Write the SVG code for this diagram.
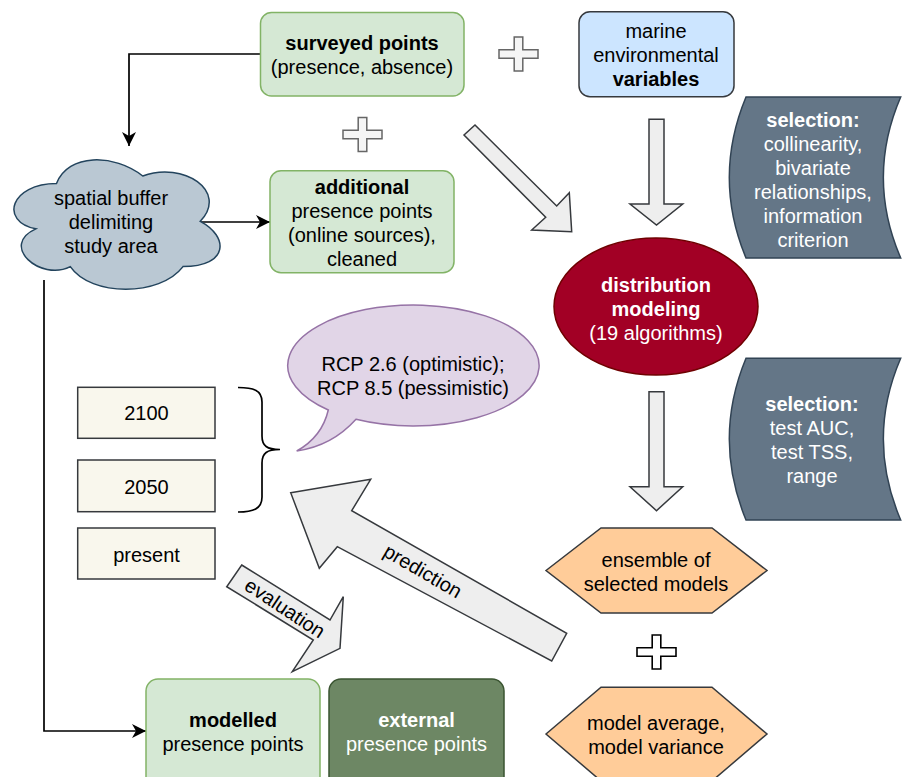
<svg xmlns="http://www.w3.org/2000/svg" width="904" height="777" viewBox="0 0 904 777">
  <defs>
    <style>
      .t { font-family: "Liberation Sans", Arial, Helvetica, sans-serif; font-size: 20px; text-anchor: middle; fill: #000000; }
      .b { font-weight: bold; }
      .w { fill: #ffffff; }
      .green { fill: #d5e8d4; stroke: #82b366; stroke-width: 1.5; }
      .blue { fill: #cce5ff; stroke: #36393d; stroke-width: 1.5; }
      .slate { fill: #647687; stroke: #314354; stroke-width: 1.5; }
      .beige { fill: #f9f7ed; stroke: #36393d; stroke-width: 1.5; }
      .orange { fill: #ffcc99; stroke: #36393d; stroke-width: 1.5; }
      .blk { fill: #eeeeee; stroke: #36393d; stroke-width: 1.5; stroke-linejoin: miter; }
      .plusA { fill: #f5f5f5; stroke: #666666; stroke-width: 1.5; }
      .plusB { fill: #ffffff; stroke: #000000; stroke-width: 1.6; }
      .conn { fill: none; stroke: #000000; stroke-width: 1.7; }
    </style>
    <marker id="arr" markerUnits="userSpaceOnUse" markerWidth="15" markerHeight="14" refX="14" refY="7" orient="auto">
      <path d="M0,0 L14,7 L0,14 L4,7 Z" fill="#000000"/>
    </marker>
    <path id="plus" d="M-4.3,-17 H4.3 V-4.3 H19.5 V4.3 H4.3 V17 H-4.3 V4.3 H-19.5 V-4.3 H-4.3 Z"/>
  </defs>

  <g id="connectors">
    <path class="conn" d="M260.5,54 H129 V146" marker-end="url(#arr)"/>
    <path class="conn" d="M200,222 H270" marker-end="url(#arr)"/>
    <path class="conn" d="M44,280 V731 H146" marker-end="url(#arr)"/>
  </g>

  <g id="surveyed">
    <rect class="green" x="260.5" y="12.5" width="203.5" height="83.5" rx="11"/>
    <text class="t b" x="362" y="50">surveyed points</text>
    <text class="t" x="362" y="74">(presence, absence)</text>
  </g>

  <g id="plus1"><use href="#plus" class="plusA" transform="translate(518.5,54)"/></g>

  <g id="marine">
    <rect class="blue" x="579" y="11.7" width="155" height="85" rx="11"/>
    <text class="t" x="656" y="38">marine</text>
    <text class="t" x="656" y="62">environmental</text>
    <text class="t b" x="656" y="86">variables</text>
  </g>

  <g id="plus2"><use href="#plus" class="plusA" transform="translate(362.5,134.5)"/></g>

  <g id="additional">
    <rect class="green" x="270" y="170.7" width="184" height="102" rx="11"/>
    <text class="t b" x="362" y="194">additional</text>
    <text class="t" x="362" y="218">presence points</text>
    <text class="t" x="362" y="242">(online sources),</text>
    <text class="t" x="362" y="266">cleaned</text>
  </g>

  <g id="cloud">
    <path fill="#bac8d3" stroke="#23445d" stroke-width="1.5" d="M56.5,183.55 C10.5,183.55 -1,221.3 35.8,228.85 C-1,245.46 40.4,281.7 70.3,266.6 C91,296.8 160,296.8 183,266.6 C229,266.6 229,236.4 200.25,221.3 C229,191.1 183,160.9 142.75,176 C114,153.35 68,153.35 56.5,183.55 Z"/>
    <text class="t" x="111" y="205">spatial buffer</text>
    <text class="t" x="111" y="229">delimiting</text>
    <text class="t" x="111" y="253">study area</text>
  </g>

  <g id="arrow-diag">
    <polygon class="blk" points="475,125 556.7,206 569.3,192.7 571.7,231.7 531.7,230 545.7,217.3 464,135"/>
  </g>

  <g id="arrow-down1">
    <polygon class="blk" points="649,119.3 664,119.3 664,204 682.7,204 656.5,225 630,204 649,204"/>
  </g>

  <g id="selection1">
    <path class="slate" d="M746,97 L900.7,97 Q866,177.5 900.7,258 L746,258 Q712.6,177.5 746,97 Z"/>
    <text class="t b w" x="813" y="127">selection:</text>
    <text class="t w" x="813" y="151">collinearity,</text>
    <text class="t w" x="813" y="175">bivariate</text>
    <text class="t w" x="813" y="199">relationships,</text>
    <text class="t w" x="813" y="223">information</text>
    <text class="t w" x="813" y="247">criterion</text>
  </g>

  <g id="distribution">
    <ellipse cx="656" cy="306.5" rx="102" ry="68.5" fill="#a20025" stroke="#6f0000" stroke-width="1.5"/>
    <text class="t b w" x="656" y="291.5">distribution</text>
    <text class="t b w" x="656" y="315.5">modeling</text>
    <text class="t w" x="656" y="339.5">(19 algorithms)</text>
  </g>

  <g id="scenarios">
    <path fill="#e1d5e7" stroke="#9673a6" stroke-width="1.5" d="M356,419.3 A125.7,60.5 0 1 0 328.3,410 Q322,437 296.7,451 Q332,446 356,419.3 Z"/>
    <text class="t" x="413" y="371">RCP 2.6 (optimistic);</text>
    <text class="t" x="413" y="395">RCP 8.5 (pessimistic)</text>
  </g>

  <g id="brace">
    <path fill="none" stroke="#000000" stroke-width="1.7" d="M238,387.5 C253,387.5 262,390 262,402 L262,436 C262,446 267,449.5 280,449.5 C267,449.5 262,453 262,463 L262,497 C262,509 253,512 238,512"/>
  </g>

  <g id="y2100">
    <rect class="beige" x="77.7" y="387.3" width="137.3" height="51"/>
    <text class="t" x="146.5" y="420">2100</text>
  </g>
  <g id="y2050">
    <rect class="beige" x="77.7" y="460" width="137.3" height="51.7"/>
    <text class="t" x="146.5" y="494">2050</text>
  </g>
  <g id="present">
    <rect class="beige" x="77.7" y="528" width="137.3" height="51"/>
    <text class="t" x="146.5" y="562">present</text>
  </g>

  <g id="arrow-down2">
    <polygon class="blk" points="649,391.7 664,391.7 664,486.7 682.7,486.7 656.5,510.7 630,486.7 649,486.7"/>
  </g>

  <g id="selection2">
    <path class="slate" d="M746,358.3 L900.7,358.3 Q866,439 900.7,520 L746,520 Q712.6,439 746,358.3 Z"/>
    <text class="t b w" x="812" y="411">selection:</text>
    <text class="t w" x="812" y="435">test AUC,</text>
    <text class="t w" x="812" y="459">test TSS,</text>
    <text class="t w" x="812" y="483">range</text>
  </g>

  <g id="prediction">
    <polygon class="blk" points="290.7,492.7 370.7,479.3 351.7,510.7 566.7,633.3 551.7,661 337.3,546.7 319.3,568.3"/>
    <text class="t" transform="translate(423,571) rotate(30.2)" x="0" y="7">prediction</text>
  </g>

  <g id="evaluation">
    <polygon class="blk" points="241.7,565 330,620 343.3,596.7 340,648.3 292.3,671.7 313.3,640 226.7,586.7"/>
    <text class="t" transform="translate(285,608) rotate(33.5)" x="0" y="7">evaluation</text>
  </g>

  <g id="ensemble">
    <polygon class="orange" points="546,570.5 601,528 712,528 767,570.5 712,613 601,613"/>
    <text class="t" x="656" y="567">ensemble of</text>
    <text class="t" x="656" y="591">selected models</text>
  </g>

  <g id="plus3"><use href="#plus" class="plusB" transform="translate(656.5,652)"/></g>

  <g id="average">
    <polygon class="orange" points="546,734 601,687.3 712,687.3 767,734 712,781 601,781"/>
    <text class="t" x="656" y="730">model average,</text>
    <text class="t" x="656" y="754">model variance</text>
  </g>

  <g id="modelled">
    <rect class="green" x="146" y="679" width="174" height="115" rx="12"/>
    <text class="t b" x="233" y="727">modelled</text>
    <text class="t" x="233" y="751">presence points</text>
  </g>

  <g id="external">
    <rect fill="#6d8764" stroke="#3a5431" stroke-width="1.5" x="329" y="679" width="175" height="115" rx="12"/>
    <text class="t b w" x="416.5" y="727">external</text>
    <text class="t w" x="416.5" y="751">presence points</text>
  </g>
</svg>
